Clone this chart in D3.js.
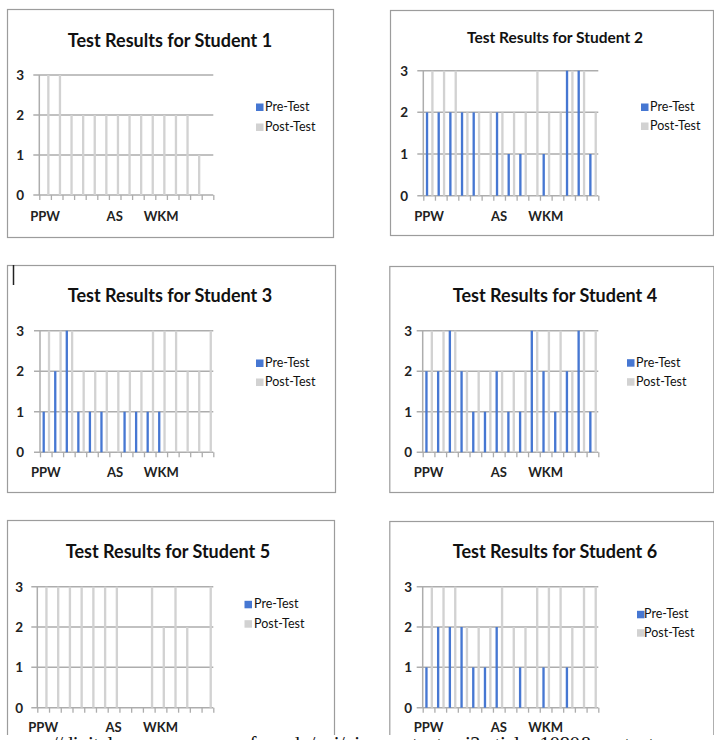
<!DOCTYPE html>
<html>
<head>
<meta charset="utf-8">
<script src="https://cdn.jsdelivr.net/npm/d3@7"></script>
<style>
  body { margin: 0; background: #fff; }
  svg { display: block; font-family: Lato, "Open Sans", sans-serif; }
</style>
</head>
<body>
<svg id="chart" width="714" height="740"></svg>
<script>
// ---------------------------
// Six small "Test Results" bar charts
// ---------------------------

// categories (15 test items), only some carry a label
const categories = [1, 2, 3, 4, 5, 6, 7, 8, 9, 10, 11, 12, 13, 14, 15];
const tickLabels = ["PPW", "", "", "", "", "", "AS", "", "", "", "WKM", "", "", "", ""];
const seriesNames = ["Pre-Test", "Post-Test"];
const yTicks = [0, 1, 2, 3];
const titles = [
  "Test Results for Student 1", "Test Results for Student 2",
  "Test Results for Student 3", "Test Results for Student 4",
  "Test Results for Student 5", "Test Results for Student 6"
];

// scores
const pre1  = [0, 0, 0, 0, 0, 0, 0, 0, 0, 0, 0, 0, 0, 0, 0];
const post1 = [3, 3, 2, 2, 2, 2, 2, 2, 2, 2, 2, 2, 2, 1, 0];
const pre2  = [2, 2, 2, 2, 2, 0, 2, 1, 1, 0, 1, 0, 3, 3, 1];
const post2 = [3, 3, 3, 2, 2, 2, 2, 2, 2, 3, 2, 2, 3, 3, 2];
const pre3  = [1, 2, 3, 1, 1, 1, 0, 1, 1, 1, 1, 0, 0, 0, 0];
const post3 = [3, 3, 3, 2, 2, 2, 2, 2, 2, 3, 3, 3, 2, 2, 3];
const pre4  = [2, 2, 3, 2, 1, 1, 2, 1, 1, 3, 2, 1, 2, 3, 1];
const post4 = [3, 3, 3, 2, 2, 2, 2, 2, 2, 3, 3, 3, 2, 3, 3];
const pre5  = [0, 0, 0, 0, 0, 0, 0, 0, 0, 0, 0, 0, 0, 0, 0];
const post5 = [3, 3, 3, 3, 3, 3, 3, 0, 0, 3, 2, 3, 2, 0, 3];
const pre6  = [1, 2, 2, 2, 1, 1, 2, 0, 1, 0, 1, 0, 1, 0, 0];
const post6 = [3, 3, 3, 2, 2, 2, 3, 2, 2, 3, 3, 3, 2, 3, 3];

const preSeries  = [pre1, pre2, pre3, pre4, pre5, pre6];
const postSeries = [post1, post2, post3, post4, post5, post6];

// where each chart sits on the page (it is a screenshot of a document)
const layouts = [
  { box: [7, 9, 326, 228],    px: [39.3, 213.3],  py: [195, 75],      title: [170, 47, 18],   yl: 24,  xl: 220.5, lg: [256, 265, 111, 131] },
  { box: [390, 10, 323, 225], px: [423.3, 598.3], py: [195.7, 70.7],  title: [555, 43, 15.5], yl: 408, xl: 220.7, lg: [641, 650, 111, 130] },
  { box: [7, 265, 328, 227],  px: [40, 213.3],    py: [452.3, 330.7], title: [170, 302, 18],  yl: 24,  xl: 477,   lg: [256, 265, 367, 386] },
  { box: [389.3, 266, 324, 226], px: [422.7, 598.3], py: [452.3, 330.7], title: [555, 302, 18], yl: 412, xl: 476.7, lg: [627, 636, 366.7, 385.7] },
  { box: [7, 520, 327, 240],  px: [37.3, 213.3],  py: [707.7, 586.7], title: [168, 557.7, 18], yl: 23, xl: 731.7, lg: [244.5, 254, 608.3, 627.7] },
  { box: [389.3, 521, 324, 240], px: [422.7, 598.3], py: [707.7, 586.7], title: [555, 557.7, 18], yl: 412, xl: 731.7, lg: [637, 644, 618.3, 636.7] }
];

const colors = { "Pre-Test": "#4677d2", "Post-Test": "#d2d2d2" };
const gridColor = "#adadad";

const svg = d3.select("#chart");

function drawPanel(i) {
  const L = layouts[i];
  const g = svg.append("g").attr("class", "panel");

  // panel frame
  g.append("rect")
    .attr("x", L.box[0] + 0.5).attr("y", L.box[1] + 0.5)
    .attr("width", L.box[2]).attr("height", L.box[3])
    .attr("fill", "#fff").attr("stroke", "#9c9c9c").attr("stroke-width", 1.2);

  g.append("text")
    .attr("x", L.title[0]).attr("y", L.title[1])
    .attr("text-anchor", "middle")
    .attr("font-size", L.title[2]).attr("font-weight", "bold")
    .attr("fill", "#111")
    .text(titles[i]);

  const x = d3.scaleBand().domain(categories).range(L.px).paddingInner(0).paddingOuter(0);
  const bw = x.bandwidth();
  const xs = d3.scalePoint().domain(seriesNames).range([bw * 0.32, bw * 0.78]);
  const y = d3.scaleLinear().domain([0, 3]).range(L.py);
  const barW = bw * 0.2;

  // horizontal gridlines (also the category axis at 0)
  g.selectAll(".grid")
    .data(yTicks)
    .enter().append("line")
    .attr("x1", L.px[0] - 6).attr("x2", L.px[1])
    .attr("y1", d => y(d)).attr("y2", d => y(d))
    .attr("stroke", gridColor).attr("stroke-width", 1.5);

  // value axis line
  g.append("line")
    .attr("x1", L.px[0]).attr("x2", L.px[0])
    .attr("y1", y(0)).attr("y2", y(3))
    .attr("stroke", gridColor).attr("stroke-width", 1.5);

  g.selectAll(".ylab")
    .data(yTicks)
    .enter().append("text")
    .attr("x", L.yl).attr("y", d => y(d) + 5)
    .attr("text-anchor", "end")
    .attr("font-size", 13.5).attr("font-weight", "bold").attr("fill", "#222")
    .text(d => d);

  // bars
  const rows = [];
  categories.forEach((c, k) => {
    rows.push({ c, s: "Pre-Test", v: preSeries[i][k] });
    rows.push({ c, s: "Post-Test", v: postSeries[i][k] });
  });
  g.selectAll(".bar")
    .data(rows.filter(d => d.v > 0))
    .enter().append("rect")
    .attr("x", d => x(d.c) + xs(d.s) - barW / 2)
    .attr("y", d => y(d.v))
    .attr("width", barW)
    .attr("height", d => y(0) - y(d.v))
    .attr("fill", d => colors[d.s]);

  // tick marks between categories
  const tickScale = d3.scaleLinear().domain([0, categories.length]).range(L.px);
  g.append("g")
    .attr("transform", `translate(0,${y(0)})`)
    .call(d3.axisBottom(tickScale).ticks(categories.length).tickSize(5).tickFormat(""))
    .call(a => a.select(".domain").remove())
    .call(a => a.selectAll("line").attr("stroke", gridColor).attr("stroke-width", 1.3));

  // category labels
  g.selectAll(".xlab")
    .data(categories)
    .enter().append("text")
    .attr("x", d => x(d) + bw / 2)
    .attr("y", L.xl)
    .attr("text-anchor", "middle")
    .attr("font-size", 13).attr("font-weight", "bold").attr("fill", "#222")
    .text((d, k) => tickLabels[k]);

  // legend
  const lg = g.selectAll(".legend")
    .data(seriesNames)
    .enter().append("g");
  lg.append("rect")
    .attr("x", L.lg[0]).attr("y", (d, k) => L.lg[2 + k] - 7.5)
    .attr("width", 7.5).attr("height", 7.5)
    .attr("fill", d => colors[d]);
  lg.append("text")
    .attr("x", L.lg[1]).attr("y", (d, k) => L.lg[2 + k])
    .attr("font-size", 12.5).attr("fill", "#111")
    .text(d => d);
}

layouts.forEach((L, i) => drawPanel(i));

// text cursor left in the document
svg.append("line")
  .attr("x1", 13.5).attr("x2", 13.5).attr("y1", 265).attr("y2", 285)
  .attr("stroke", "#222").attr("stroke-width", 1.5);

// body text of the document, mostly cut off by the bottom edge
svg.append("rect").attr("x", 0).attr("y", 735).attr("width", 714).attr("height", 10).attr("fill", "#fff");
svg.append("text")
  .attr("x", 52).attr("y", 751)
  .attr("font-family", "'Liberation Serif', 'DejaVu Serif', serif")
  .attr("font-size", 21).attr("fill", "#111")
  .attr("textLength", 640)
  .text("//digitalcommons.georgefox.edu/cgi/viewcontent.cgi?article=1080&context=soe");
</script>
</body>
</html>
